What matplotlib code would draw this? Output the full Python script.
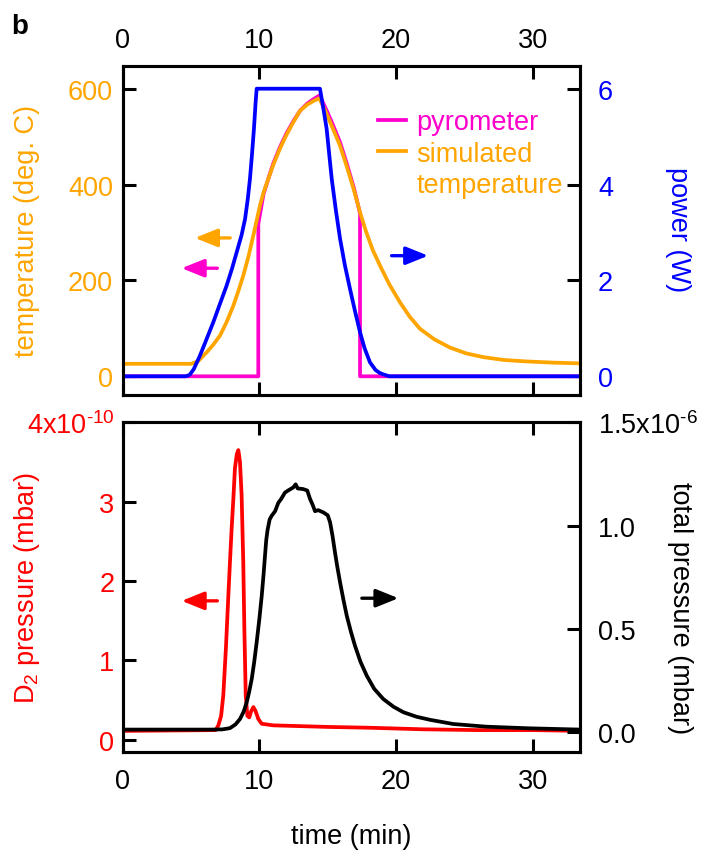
import matplotlib
matplotlib.use("Agg")
import matplotlib.pyplot as plt
from matplotlib.lines import Line2D

plt.rcParams['font.family'] = ['Liberation Sans', 'DejaVu Sans']
plt.rcParams['mathtext.fontset'] = 'custom'
plt.rcParams['mathtext.rm'] = 'Liberation Sans'

# ---- top panel: temperature / power vs time (min)
sim_t = [0, 5.0, 5.5, 6.14, 6.6, 7.12, 7.6, 8.09, 8.45, 8.82, 9.2, 9.55, 10.04, 10.3, 10.65,
         11.0, 11.5, 12.0, 12.48, 12.97, 13.5, 14.0, 14.38,
         14.8, 15.3, 15.9, 16.4, 16.9, 17.36, 17.8, 18.3, 18.82, 19.5, 20.29, 21.0, 21.75,
         22.8, 23.94, 25.1, 26.38, 27.9, 29.55, 31.5, 33.45]
sim_temp = [26, 26, 31, 50, 65, 85, 113, 147, 177, 210, 250, 293, 356, 383, 412,
            440, 475, 505, 530, 554, 567, 575, 580,
            555, 522, 481, 437, 390, 342, 302, 263, 231, 192, 154, 124, 99,
            77, 60, 48, 40, 34, 31, 28.5, 27]

pyro_t = [0, 9.92, 9.92, 10.3, 10.65, 11.0, 11.5, 12.0, 12.5, 13.0, 13.5, 14.0, 14.4,
          14.8, 15.3, 15.9, 16.4, 16.9, 17.36, 17.36, 33.45]
pyro_temp = [0, 0, 318, 380, 412, 443, 478, 508, 533, 555, 569, 579, 586,
             562, 530, 488, 443, 394, 340, 0, 0]

power_t = [0, 4.6, 4.9, 5.2, 5.65, 6.1, 6.63, 7.1, 7.6, 8.0, 8.34, 8.7, 8.95, 9.15, 9.31,
           9.45, 9.6, 9.72, 9.8, 14.43, 14.7, 14.92, 15.1, 15.29, 15.6, 15.9, 16.25, 16.63,
           17.0, 17.36, 17.7, 18.09, 18.5, 18.8, 19.06, 19.5, 33.45]
power_w = [0, 0, 0.03, 0.15, 0.43, 0.75, 1.13, 1.5, 1.89, 2.25, 2.59, 2.95, 3.28, 3.7, 4.12,
           4.6, 5.16, 5.7, 6.0, 6.0, 5.55, 5.16, 4.65, 4.12, 3.45, 2.87, 2.32, 1.82,
           1.35, 0.92, 0.58, 0.29, 0.13, 0.07, 0.04, 0, 0]

# ---- bottom panel: D2 pressure (x1e-10 mbar) / total pressure (x1e-6 mbar)
d2_t = [0, 6.8, 7.0, 7.2, 7.36, 7.55, 7.73, 7.85, 7.97, 8.1, 8.21, 8.35, 8.46, 8.58, 8.7, 8.82,
        8.9, 9.0, 9.12, 9.26, 9.4, 9.56, 9.72, 9.92, 10.17, 11, 13, 15, 18, 22, 26, 30, 33.45]
d2_e10 = [0.11, 0.12, 0.18, 0.3, 0.56, 1.15, 1.82, 2.25, 2.66, 3.05, 3.42, 3.6, 3.65, 3.5, 3.08, 2.24,
          1.4, 0.56, 0.30, 0.28, 0.36, 0.41, 0.36, 0.26, 0.20, 0.18, 0.17, 0.16, 0.15, 0.13, 0.12,
          0.12, 0.11]

tot_t = [0, 6.5, 7.3, 7.85, 8.25, 8.58, 8.85, 9.07, 9.25, 9.44, 9.62, 9.8, 10.0, 10.17, 10.3,
         10.41, 10.5, 10.6, 10.75, 10.9, 11.15, 11.38, 11.6, 11.87, 12.1, 12.48, 12.65, 12.8,
         13.2, 13.5, 13.7, 13.9, 14.07, 14.3, 14.68, 15.0, 15.17, 15.35, 15.53, 15.7, 15.9,
         16.15, 16.39, 16.7, 16.99, 17.4, 17.85, 18.4, 19.06, 19.8, 20.53, 21.5, 22.5, 24.18,
         26.6, 29.8, 33.45]
tot_e6 = [0.013, 0.013, 0.014, 0.02, 0.038, 0.064, 0.10, 0.145, 0.195, 0.258, 0.34, 0.435, 0.55,
          0.66, 0.76, 0.854, 0.93, 0.98, 1.03, 1.048, 1.07, 1.11, 1.13, 1.16, 1.17, 1.185, 1.20,
          1.18, 1.177, 1.17, 1.13, 1.10, 1.07, 1.075, 1.064, 1.05, 1.016, 0.95, 0.87, 0.80,
          0.726, 0.64, 0.564, 0.485, 0.419, 0.34, 0.274, 0.21, 0.161, 0.124, 0.097, 0.075,
          0.060, 0.040, 0.027, 0.019, 0.013]

x_ticks = [0, 10, 20, 30]
temp_ticks = [0, 200, 400, 600]
power_ticks = [0, 2, 4, 6]
d2_ticks = [0, 1, 2, 3, 4]
d2_labels = ['0', '1', '2', '3', '4x10$^{\\mathregular{\u2010}10}$']
tot_ticks = [0, 0.5, 1.0, 1.5]
tot_labels = ['0.0', '0.5', '1.0', '1.5x10$^{\\mathregular{\u2010}6}$']

ORANGE = '#ffa500'
MAGENTA = '#ff00cc'
BLUE = '#0000ff'
RED = '#ff0000'
FS = 19.5
LW = 2.7

fig = plt.figure(figsize=(7.01, 8.54), dpi=100)
ax1 = fig.add_axes([0.175, 0.5363, 0.6524, 0.3856])
ax2 = ax1.twinx()
ax3 = fig.add_axes([0.175, 0.1179, 0.6524, 0.3864])
ax4 = ax3.twinx()

for a in (ax1, ax2, ax3, ax4):
    for s in a.spines.values():
        s.set_linewidth(2.2)
    a.tick_params(direction='in', length=9.5, width=2.2, labelsize=FS)
    a.set_xlim(0, 33.45)

# top
ln_pyro, = ax1.plot(pyro_t, pyro_temp, color=MAGENTA, lw=LW, zorder=2)
ln_sim, = ax1.plot(sim_t, sim_temp, color=ORANGE, lw=LW, zorder=3)
ax2.plot(power_t, power_w, color=BLUE, lw=LW)
ax1.set_ylim(-39, 648)
ax2.set_ylim(-0.39, 6.48)
ax1.set_xticks(x_ticks)
ax1.tick_params(axis='x', top=True, labeltop=True, bottom=True, labelbottom=False, pad=9)
ax1.set_yticks(temp_ticks)
ax1.tick_params(axis='y', labelcolor=ORANGE, color='black', pad=7)
ax2.set_yticks(power_ticks)
ax2.tick_params(axis='y', labelcolor=BLUE, color='black', pad=13)
ax1.set_ylabel('temperature (deg. C)', color=ORANGE, fontsize=FS)
ax1.yaxis.set_label_coords(-0.181, 0.5)
ax2.set_ylabel('power (W)', color=BLUE, fontsize=FS, rotation=-90, va='bottom')
ax2.yaxis.set_label_coords(1.186, 0.504)

proxy = Line2D([], [], color='none')
ax1.legend([ln_pyro, ln_sim, proxy], ['pyrometer', 'simulated', 'temperature'],
           loc='upper left', bbox_to_anchor=(0.558, 0.868), frameon=False, fontsize=FS,
           handlelength=1.03, handletextpad=0.4, labelspacing=0.2, borderpad=0,
           borderaxespad=0, labelcolor=[MAGENTA, ORANGE, ORANGE])

def arrow(ax, x0, x1, y, color):
    ax.annotate('', xy=(x1, y), xytext=(x0, y), xycoords='axes fraction',
                arrowprops=dict(arrowstyle='-|>,head_length=0.62,head_width=0.25',
                                color=color, lw=2.4, mutation_scale=22,
                                shrinkA=0, shrinkB=0))

arrow(ax1, 0.235, 0.158, 0.477, ORANGE)
arrow(ax1, 0.207, 0.129, 0.385, MAGENTA)
arrow(ax1, 0.588, 0.668, 0.423, BLUE)

# bottom
ax3.plot(d2_t, d2_e10, color=RED, lw=LW)
ax4.plot(tot_t, tot_e6, color='black', lw=LW)
ax3.set_ylim(-0.16, 4.0)
ax4.set_ylim(-0.097, 1.5)
ax3.set_xticks(x_ticks)
ax3.tick_params(axis='x', top=True, labeltop=False, bottom=True, labelbottom=True, pad=11)
ax3.set_yticks(d2_ticks)
ax3.set_yticklabels(d2_labels)
ax3.tick_params(axis='y', labelcolor=RED, color='black', pad=6)
ax4.set_yticks(tot_ticks)
ax4.set_yticklabels(tot_labels)
ax4.tick_params(axis='y', pad=13)
ax3.set_ylabel('D$_\\mathregular{2}$ pressure (mbar)', color=RED, fontsize=FS)
ax3.yaxis.set_label_coords(-0.177, 0.5)
ax4.set_ylabel('total pressure (mbar)', fontsize=FS, rotation=-90, va='bottom')
ax4.yaxis.set_label_coords(1.19, 0.44)
ax3.set_xlabel('time (min)', fontsize=FS)
ax3.xaxis.set_label_coords(0.5, -0.215)

arrow(ax3, 0.207, 0.129, 0.459, RED)
arrow(ax3, 0.523, 0.603, 0.467, 'black')

fig.text(0.016, 0.968, 'b', fontsize=20, fontweight='bold', va='center')

fig.savefig('out.png', dpi=100)
